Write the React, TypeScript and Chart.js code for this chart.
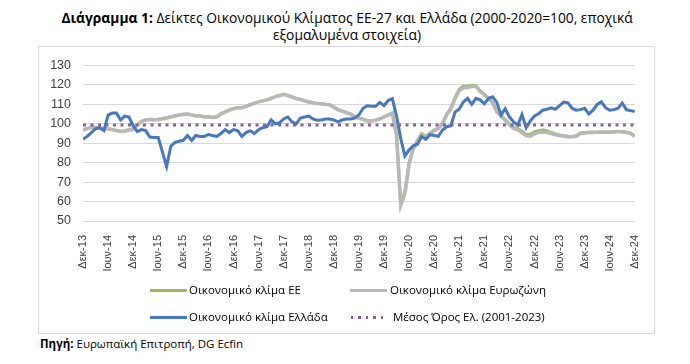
import React, { useEffect, useRef } from "react";
import { Chart, registerables } from "chart.js";

Chart.register(...registerables);

// Monthly, Dec 2013 .. Dec 2024 (133 months)
const xTickLabels = [
  "Δεκ-13", "Ιουν-14", "Δεκ-14", "Ιουν-15", "Δεκ-15", "Ιουν-16", "Δεκ-16", "Ιουν-17",
  "Δεκ-17", "Ιουν-18", "Δεκ-18", "Ιουν-19", "Δεκ-19", "Ιουν-20", "Δεκ-20", "Ιουν-21",
  "Δεκ-21", "Ιουν-22", "Δεκ-22", "Ιουν-23", "Δεκ-23", "Ιουν-24", "Δεκ-24",
];

const greece = [
  92, 93.5, 95.5, 97.5, 98, 96.5, 104.5, 105.5, 105.5, 102, 104, 103.5,
  99, 96, 97, 96.5, 93.2, 93, 93, 85.5, 78, 88.5, 90.5, 91,
  91.5, 94, 91.5, 94, 93.5, 93.5, 94.5, 94, 93.5, 95, 97, 95.5,
  97, 96.5, 93.5, 95.5, 96.5, 95, 97, 98, 98.5, 102, 100, 100.5,
  102.5, 103.5, 101, 100, 103, 103.5, 104, 102.5, 101.8, 102, 102.5, 102.5,
  102, 101, 102, 102.5, 102.5, 103, 104.5, 108, 109.3, 109, 109, 111,
  109.3, 112, 113, 104, 92.5, 83.5, 86.5, 88.7, 89.5, 93.5, 92, 94.4,
  94, 93.6, 96.8, 98.5, 99, 106, 107.6, 111.2, 113.1, 110, 113.1, 112.3,
  110.3, 113, 113.9, 111, 104.5, 107.8, 103.6, 101, 99.3, 104.8, 98, 101.5,
  104, 105.2, 107, 107.5, 108.2, 107.5, 109.3, 111.2, 110.8, 108, 107, 107.3,
  108, 105, 107, 110, 111.3, 108.3, 107, 107.3, 108, 110.7, 107.2, 106.8, 106.3,
];

const eurozone = [
  96.8, 97.5, 98.2, 98, 97.8, 97.5, 97.4, 97, 96.5, 96, 96.2, 96.8,
  97, 99.5, 101.2, 102, 102.2, 102, 102.2, 102.5, 103, 103.5, 104, 104.5,
  104.8, 105, 104.5, 104, 104, 103.5, 103.5, 103.2, 103.5, 105, 106, 107,
  107.8, 108.2, 108.2, 109, 109.8, 110.5, 111.3, 111.8, 112.3, 113, 114, 114.5,
  115.2, 114.5, 113.8, 113, 112.5, 111.8, 111.2, 110.8, 110.5, 110.3, 110, 109.8,
  108.5, 107.2, 106.5, 105.7, 105, 103.5, 102.8, 102.3, 101.5, 101.5, 101.8, 102.5,
  103.5, 104.5, 105.5, 94, 58, 64, 79, 87, 91, 94.5, 93, 95,
  96.5, 97.5, 100, 104.5, 107.5, 113, 117, 118.5, 118.7, 119.2, 119.3, 116.5,
  115, 113, 110.7, 106, 104.2, 101.8, 99.5, 97.6, 97, 95.5, 93.8, 93.6,
  94.8, 95.6, 95.8, 95.5, 95, 94.4, 94, 93.6, 93.3, 93.3, 93.6, 95,
  95.3, 95.5, 95.5, 95.6, 95.6, 95.7, 95.7, 95.8, 96, 95.8, 95.5, 95, 93.5,
];

const eu = [
  97, 97.6, 98.3, 98.2, 98, 97.6, 97.5, 97.1, 96.6, 96.2, 96.4, 97,
  97.3, 99.6, 101.3, 102.1, 102.3, 102.1, 102.3, 102.6, 103.1, 103.6, 104.1, 104.6,
  104.9, 105.1, 104.6, 104.1, 104.1, 103.6, 103.6, 103.3, 103.6, 105.1, 106.1, 107.1,
  107.9, 108.3, 108.3, 109.1, 109.9, 110.6, 111.4, 111.9, 112.4, 113.1, 114.1, 114.6,
  115.2, 114.6, 113.9, 113.1, 112.6, 111.9, 111.3, 110.9, 110.6, 110.4, 110.1, 109.9,
  108.6, 107.3, 106.6, 105.8, 105.1, 103.6, 102.9, 102.4, 101.6, 101.6, 101.9, 102.6,
  103.6, 104.6, 105.6, 94.5, 59, 65, 80, 87.5, 91.5, 95, 93.6, 95.2,
  96.8, 97.8, 100.5, 105, 108, 113.6, 117.8, 119.3, 119.5, 119.8, 119.6, 117,
  115.3, 113.3, 111, 106.4, 104.5, 102.2, 100, 98.2, 97.5, 96.2, 94.5, 94.6,
  95.8, 96.5, 96.8, 96.3, 95.6, 94.8, 94.3, 93.9, 93.6, 93.5, 93.9, 95.3,
  95.5, 95.6, 95.6, 95.7, 95.7, 95.8, 95.8, 95.9, 96.1, 96, 95.7, 95.2, 93.8,
];

const greeceMean = 99.4;

const seriesNames = {
  eu: "Οικονομικό κλίμα ΕΕ",
  ez: "Οικονομικό κλίμα Ευρωζώνη",
  gr: "Οικονομικό κλίμα Ελλάδα",
  mean: "Μέσος Όρος Ελ. (2001-2023)",
};

const COLORS = {
  eu: "#9BBB59",
  ez: "#B8B8B8",
  gr: "#4677BF",
  mean: "#8064A2",
  grid: "#D9D9D9",
  text: "#404040",
};

const toPts = (arr: number[]) => arr.map((v, i) => ({ x: i, y: v }));

export default function App() {
  const ref = useRef<HTMLCanvasElement>(null);

  useEffect(() => {
    if (!ref.current) return;
    const last = greece.length - 1;
    const chart = new Chart(ref.current, {
      type: "line",
      data: {
        datasets: [
          {
            label: seriesNames.mean,
            data: [{ x: 0, y: greeceMean }, { x: last, y: greeceMean }],
            borderColor: COLORS.mean,
            borderWidth: 3,
            borderDash: [3, 4.5],
            pointRadius: 0,
            order: 0,
          },
          {
            label: seriesNames.gr,
            data: toPts(greece),
            borderColor: COLORS.gr,
            borderWidth: 3,
            pointRadius: 0,
            order: 1,
          },
          {
            label: seriesNames.ez,
            data: toPts(eurozone),
            borderColor: COLORS.ez,
            borderWidth: 3.5,
            pointRadius: 0,
            order: 2,
          },
          {
            label: seriesNames.eu,
            data: toPts(eu),
            borderColor: COLORS.eu,
            borderWidth: 3,
            pointRadius: 0,
            order: 3,
          },
        ],
      },
      options: {
        responsive: false,
        maintainAspectRatio: false,
        animation: false,
        layout: { padding: { left: 0, right: 16, top: 11, bottom: 10 } },
        plugins: { legend: { display: false }, tooltip: { enabled: false } },
        scales: {
          x: {
            type: "linear",
            min: 0,
            max: last,
            afterFit: (s: any) => {
              s.height = 55;
            },
            grid: { display: false },
            border: { display: false },
            ticks: {
              stepSize: 6,
              autoSkip: false,
              maxTicksLimit: 100,
              minRotation: 90,
              maxRotation: 90,
              padding: 6,
              color: COLORS.text,
              font: { family: "'Liberation Sans', Arial, sans-serif", size: 11 },
              callback: (v: any) => {
                const idx = Math.round(Number(v) / 6);
                return Number(v) % 6 === 0 ? xTickLabels[idx] ?? "" : "";
              },
            },
          },
          y: {
            min: 50,
            max: 130,
            afterFit: (s: any) => {
              s.width = 45;
            },
            grid: { color: COLORS.grid, drawTicks: false, lineWidth: 1 },
            border: { display: false },
            ticks: {
              stepSize: 10,
              padding: 12,
              color: COLORS.text,
              font: { family: "'Liberation Sans', Arial, sans-serif", size: 12.5 },
            },
          },
        },
      },
    });
    return () => chart.destroy();
  }, []);

  const legendFont: React.CSSProperties = {
    position: "absolute",
    fontFamily: "'Open Sans', sans-serif",
    fontSize: 11.5,
    color: "#000",
    lineHeight: "14px",
    whiteSpace: "nowrap",
  };

  const sample = (left: number, top: number, bg: string, w = 37, h = 3): React.CSSProperties => ({
    position: "absolute",
    left,
    top,
    width: w,
    height: h,
    background: bg,
  });

  return (
    <div style={{ position: "absolute", left: 0, top: 0, width: 690, height: 364, background: "#fff" }}>
      <div
        style={{
          position: "absolute",
          left: 0,
          top: 9,
          width: 694,
          textAlign: "center",
          fontFamily: "'Open Sans', sans-serif",
          fontSize: 13.8,
          lineHeight: "17px",
          color: "#000",
        }}
      >
        <b>Διάγραμμα 1:</b> Δείκτες Οικονομικού Κλίματος ΕΕ-27 και Ελλάδα (2000-2020=100, εποχικά
        <br />
        εξομαλυμένα στοιχεία)
      </div>
      <div
        style={{
          position: "absolute",
          left: 38,
          top: 46,
          width: 615,
          height: 286,
          border: "1px solid #D9D9D9",
        }}
      />
      <canvas
        ref={ref}
        width={616}
        height={240}
        style={{ position: "absolute", left: 38, top: 46, width: 616, height: 240 }}
      />
      {/* legend */}
      <div style={sample(150, 289, COLORS.eu)} />
      <div style={{ ...legendFont, left: 189, top: 283 }}>{seriesNames.eu}</div>
      <div style={sample(350, 289, COLORS.ez)} />
      <div style={{ ...legendFont, left: 390, top: 283 }}>{seriesNames.ez}</div>
      <div style={sample(150, 316, COLORS.gr)} />
      <div style={{ ...legendFont, left: 189, top: 310 }}>{seriesNames.gr}</div>
      <div
        style={sample(
          351,
          316,
          `repeating-linear-gradient(to right, ${COLORS.mean} 0px, ${COLORS.mean} 2.5px, transparent 2.5px, transparent 7.5px)`,
          35
        )}
      />
      <div style={{ ...legendFont, left: 393, top: 310 }}>{seriesNames.mean}</div>
      {/* source */}
      <div
        style={{
          position: "absolute",
          left: 40,
          top: 336,
          fontFamily: "'Open Sans', sans-serif",
          fontSize: 11.5,
          color: "#000",
          whiteSpace: "nowrap",
        }}
      >
        <b>Πηγή:</b> Ευρωπαϊκή Επιτροπή, DG Ecfin
      </div>
    </div>
  );
}
